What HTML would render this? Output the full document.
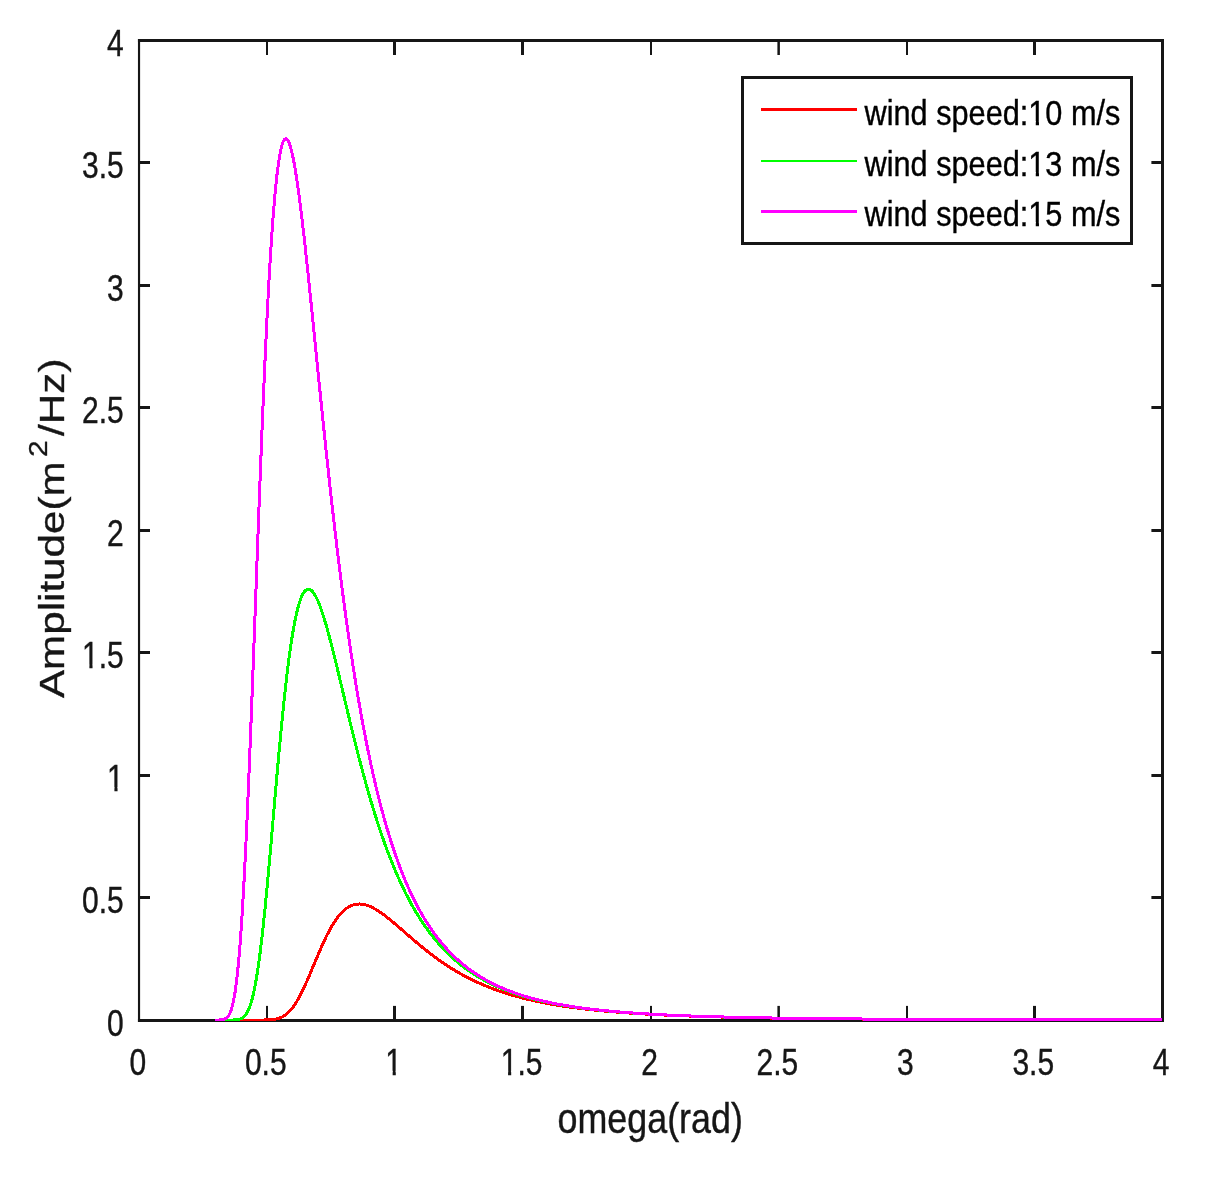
<!DOCTYPE html>
<html><head><meta charset="utf-8"><title>Wave spectrum</title>
<style>
html,body{margin:0;padding:0;background:#fff;}
body{width:1218px;height:1177px;overflow:hidden;font-family:"Liberation Sans",sans-serif;}
svg{display:block}
text{font-family:"Liberation Sans",sans-serif;fill:#161616;stroke:#161616;stroke-width:0.4px;}
.lg text{fill:#000;stroke:#000;stroke-width:0.4px;}
</style></head><body>
<svg width="1218" height="1177" viewBox="0 0 1218 1177">
<rect x="0" y="0" width="1218" height="1177" fill="#ffffff"/>

<g fill="#161616">
<rect x="137.95" y="39" width="1026.05" height="3"/>
<rect x="137.95" y="1019" width="1026.05" height="3"/>
<rect x="137.95" y="39" width="2.15" height="983"/>
<rect x="1161" y="39" width="3" height="983"/>
<rect x="266" y="40.5" width="2" height="14.5"/>
<rect x="266" y="1005.9" width="2" height="14.5"/>
<rect x="139" y="896" width="11" height="3"/>
<rect x="1151.4" y="896" width="11" height="3"/>
<rect x="393" y="40.5" width="3" height="14.5"/>
<rect x="393" y="1005.9" width="3" height="14.5"/>
<rect x="139" y="774" width="11" height="3"/>
<rect x="1151.4" y="774" width="11" height="3"/>
<rect x="521" y="40.5" width="3" height="14.5"/>
<rect x="521" y="1005.9" width="3" height="14.5"/>
<rect x="139" y="651" width="11" height="3"/>
<rect x="1151.4" y="651" width="11" height="3"/>
<rect x="650" y="40.5" width="2" height="14.5"/>
<rect x="650" y="1005.9" width="2" height="14.5"/>
<rect x="139" y="529" width="11" height="3"/>
<rect x="1151.4" y="529" width="11" height="3"/>
<rect x="777.394" y="40.5" width="2.5" height="14.5"/>
<rect x="777.394" y="1005.9" width="2.5" height="14.5"/>
<rect x="139" y="406" width="11" height="3"/>
<rect x="1151.4" y="406" width="11" height="3"/>
<rect x="906" y="40.5" width="2" height="14.5"/>
<rect x="906" y="1005.9" width="2" height="14.5"/>
<rect x="139" y="284" width="11" height="3"/>
<rect x="1151.4" y="284" width="11" height="3"/>
<rect x="1033" y="40.5" width="3" height="14.5"/>
<rect x="1033" y="1005.9" width="3" height="14.5"/>
<rect x="139" y="161" width="11" height="3"/>
<rect x="1151.4" y="161" width="11" height="3"/>
</g>
<defs><clipPath id="axclip"><rect x="138" y="39" width="1026" height="982"/></clipPath></defs>
<g fill="none" stroke-width="3" stroke-linejoin="round" shape-rendering="crispEdges" clip-path="url(#axclip)">
<path d="M215.03,1020.06 L215.80,1020.06 L217.08,1020.06 L218.36,1020.06 L219.64,1020.06 L220.92,1020.06 L222.20,1020.06 L223.48,1020.06 L224.76,1020.06 L226.03,1020.06 L227.31,1020.06 L228.59,1020.06 L229.87,1020.06 L231.15,1020.06 L232.43,1020.06 L233.71,1020.06 L234.99,1020.06 L236.27,1020.06 L237.55,1020.06 L238.83,1020.06 L240.11,1020.06 L241.39,1020.06 L242.66,1020.06 L243.94,1020.06 L245.22,1020.06 L246.50,1020.06 L247.78,1020.06 L249.06,1020.06 L250.34,1020.06 L251.62,1020.06 L252.90,1020.06 L254.18,1020.06 L255.46,1020.06 L256.74,1020.06 L258.01,1020.06 L259.29,1020.05 L260.57,1020.05 L261.85,1020.04 L263.13,1020.03 L264.41,1020.01 L265.69,1019.99 L266.97,1019.95 L268.25,1019.91 L269.53,1019.84 L270.81,1019.75 L272.09,1019.63 L273.36,1019.48 L274.64,1019.29 L275.92,1019.04 L277.20,1018.74 L278.48,1018.38 L279.76,1017.94 L281.04,1017.41 L282.32,1016.79 L283.60,1016.08 L284.88,1015.25 L286.16,1014.30 L287.44,1013.24 L288.71,1012.04 L289.99,1010.71 L291.27,1009.25 L292.55,1007.64 L293.83,1005.90 L295.11,1004.03 L296.39,1002.02 L297.67,999.87 L298.95,997.60 L300.23,995.22 L301.51,992.72 L302.79,990.11 L304.07,987.41 L305.34,984.63 L306.62,981.77 L307.90,978.85 L309.18,975.88 L310.46,972.86 L311.74,969.82 L313.02,966.76 L314.30,963.69 L315.58,960.63 L316.86,957.58 L318.14,954.57 L319.42,951.58 L320.69,948.65 L321.97,945.76 L323.25,942.95 L324.53,940.20 L325.81,937.53 L327.09,934.94 L328.37,932.44 L329.65,930.04 L330.93,927.73 L332.21,925.53 L333.49,923.43 L334.77,921.44 L336.04,919.55 L337.32,917.78 L338.60,916.12 L339.88,914.58 L341.16,913.14 L342.44,911.82 L343.72,910.61 L345.00,909.50 L346.28,908.51 L347.56,907.62 L348.84,906.83 L350.12,906.15 L351.40,905.56 L352.67,905.08 L353.95,904.68 L355.23,904.38 L356.51,904.17 L357.79,904.04 L359.07,903.99 L360.35,904.02 L361.63,904.13 L362.91,904.30 L364.19,904.55 L365.47,904.87 L366.75,905.24 L368.02,905.68 L369.30,906.17 L370.58,906.72 L371.86,907.31 L373.14,907.96 L374.42,908.65 L375.70,909.38 L376.98,910.15 L378.26,910.96 L379.54,911.80 L380.82,912.67 L382.10,913.57 L383.37,914.50 L384.65,915.45 L385.93,916.43 L387.21,917.43 L388.49,918.44 L389.77,919.48 L391.05,920.53 L392.33,921.59 L393.61,922.66 L394.89,923.74 L396.17,924.83 L397.45,925.93 L398.73,927.04 L400.00,928.15 L401.28,929.26 L402.56,930.38 L403.84,931.49 L405.12,932.61 L406.40,933.73 L407.68,934.84 L408.96,935.96 L410.24,937.06 L411.52,938.17 L412.80,939.27 L414.08,940.37 L415.35,941.46 L416.63,942.54 L417.91,943.61 L419.19,944.68 L420.47,945.74 L421.75,946.80 L423.03,947.84 L424.31,948.87 L425.59,949.90 L426.87,950.91 L428.15,951.92 L429.43,952.92 L430.70,953.90 L431.98,954.88 L433.26,955.84 L434.54,956.79 L435.82,957.73 L437.10,958.66 L438.38,959.58 L439.66,960.49 L440.94,961.39 L442.22,962.28 L443.50,963.15 L444.78,964.01 L446.06,964.87 L447.33,965.71 L448.61,966.53 L449.89,967.35 L451.17,968.16 L452.45,968.95 L453.73,969.74 L455.01,970.51 L456.29,971.27 L457.57,972.02 L458.85,972.76 L460.13,973.49 L461.41,974.20 L462.68,974.91 L463.96,975.61 L465.24,976.29 L466.52,976.97 L467.80,977.63 L469.08,978.29 L470.36,978.93 L471.64,979.56 L472.92,980.19 L474.20,980.80 L475.48,981.41 L476.76,982.00 L478.03,982.59 L479.31,983.17 L480.59,983.73 L481.87,984.29 L483.15,984.84 L484.43,985.38 L485.71,985.91 L486.99,986.44 L488.27,986.95 L489.55,987.46 L490.83,987.96 L492.11,988.45 L493.38,988.93 L494.66,989.40 L495.94,989.87 L497.22,990.33 L498.50,990.78 L499.78,991.22 L501.06,991.66 L502.34,992.09 L503.62,992.51 L504.90,992.93 L506.18,993.34 L507.46,993.74 L508.74,994.13 L510.01,994.52 L511.29,994.91 L512.57,995.28 L513.85,995.65 L515.13,996.02 L516.41,996.37 L517.69,996.73 L518.97,997.07 L520.25,997.41 L521.53,997.75 L522.81,998.08 L524.09,998.40 L525.36,998.72 L526.64,999.03 L527.92,999.34 L529.20,999.64 L530.48,999.94 L531.76,1000.24 L533.04,1000.52 L534.32,1000.81 L535.60,1001.09 L536.88,1001.36 L538.16,1001.63 L539.44,1001.90 L540.71,1002.16 L541.99,1002.42 L543.27,1002.67 L544.55,1002.92 L545.83,1003.16 L547.11,1003.40 L548.39,1003.64 L549.67,1003.87 L550.95,1004.10 L552.23,1004.33 L553.51,1004.55 L554.79,1004.77 L556.07,1004.99 L557.34,1005.20 L558.62,1005.41 L559.90,1005.61 L561.18,1005.81 L562.46,1006.01 L563.74,1006.21 L565.02,1006.40 L566.30,1006.59 L567.58,1006.77 L568.86,1006.96 L570.14,1007.14 L571.42,1007.31 L572.69,1007.49 L573.97,1007.66 L575.25,1007.83 L576.53,1007.99 L577.81,1008.16 L579.09,1008.32 L580.37,1008.48 L581.65,1008.63 L582.93,1008.79 L584.21,1008.94 L585.49,1009.09 L586.77,1009.24 L588.04,1009.38 L589.32,1009.52 L590.60,1009.66 L591.88,1009.80 L593.16,1009.94 L594.44,1010.07 L595.72,1010.20 L597.00,1010.33 L598.28,1010.46 L599.56,1010.58 L600.84,1010.71 L602.12,1010.83 L603.40,1010.95 L604.67,1011.07 L605.95,1011.18 L607.23,1011.30 L608.51,1011.41 L609.79,1011.52 L611.07,1011.63 L612.35,1011.74 L613.63,1011.85 L614.91,1011.95 L616.19,1012.06 L617.47,1012.16 L618.75,1012.26 L620.02,1012.36 L621.30,1012.45 L622.58,1012.55 L623.86,1012.64 L625.14,1012.74 L626.42,1012.83 L627.70,1012.92 L628.98,1013.01 L630.26,1013.09 L631.54,1013.18 L632.82,1013.27 L634.10,1013.35 L635.37,1013.43 L636.65,1013.51 L637.93,1013.59 L639.21,1013.67 L640.49,1013.75 L641.77,1013.83 L643.05,1013.90 L644.33,1013.98 L645.61,1014.05 L646.89,1014.13 L648.17,1014.20 L649.45,1014.27 L650.73,1014.34 L652.00,1014.41 L653.28,1014.47 L654.56,1014.54 L655.84,1014.61 L657.12,1014.67 L658.40,1014.73 L659.68,1014.80 L660.96,1014.86 L662.24,1014.92 L663.52,1014.98 L664.80,1015.04 L666.08,1015.10 L667.35,1015.16 L668.63,1015.22 L669.91,1015.27 L671.19,1015.33 L672.47,1015.38 L673.75,1015.44 L675.03,1015.49 L676.31,1015.54 L677.59,1015.59 L678.87,1015.65 L680.15,1015.70 L681.43,1015.75 L682.70,1015.79 L683.98,1015.84 L685.26,1015.89 L686.54,1015.94 L687.82,1015.98 L689.10,1016.03 L690.38,1016.08 L691.66,1016.12 L692.94,1016.17 L694.22,1016.21 L695.50,1016.25 L696.78,1016.29 L698.05,1016.34 L699.33,1016.38 L700.61,1016.42 L701.89,1016.46 L703.17,1016.50 L704.45,1016.54 L705.73,1016.58 L707.01,1016.61 L708.29,1016.65 L709.57,1016.69 L710.85,1016.73 L712.13,1016.76 L713.41,1016.80 L714.68,1016.83 L715.96,1016.87 L717.24,1016.90 L718.52,1016.94 L719.80,1016.97 L721.08,1017.00 L722.36,1017.04 L723.64,1017.07 L724.92,1017.10 L726.20,1017.13 L727.48,1017.16 L728.76,1017.19 L730.03,1017.22 L731.31,1017.25 L732.59,1017.28 L733.87,1017.31 L735.15,1017.34 L736.43,1017.37 L737.71,1017.40 L738.99,1017.42 L740.27,1017.45 L741.55,1017.48 L742.83,1017.51 L744.11,1017.53 L745.38,1017.56 L746.66,1017.58 L747.94,1017.61 L749.22,1017.64 L750.50,1017.66 L751.78,1017.68 L753.06,1017.71 L754.34,1017.73 L755.62,1017.76 L756.90,1017.78 L758.18,1017.80 L759.46,1017.83 L760.74,1017.85 L762.01,1017.87 L763.29,1017.89 L764.57,1017.91 L765.85,1017.94 L767.13,1017.96 L768.41,1017.98 L769.69,1018.00 L770.97,1018.02 L772.25,1018.04 L773.53,1018.06 L774.81,1018.08 L776.09,1018.10 L777.36,1018.12 L778.64,1018.14 L779.92,1018.16 L781.20,1018.17 L782.48,1018.19 L783.76,1018.21 L785.04,1018.23 L786.32,1018.25 L787.60,1018.26 L788.88,1018.28 L790.16,1018.30 L791.44,1018.32 L792.71,1018.33 L793.99,1018.35 L795.27,1018.37 L796.55,1018.38 L797.83,1018.40 L799.11,1018.41 L800.39,1018.43 L801.67,1018.44 L802.95,1018.46 L804.23,1018.48 L805.51,1018.49 L806.79,1018.51 L808.07,1018.52 L809.34,1018.53 L810.62,1018.55 L811.90,1018.56 L813.18,1018.58 L814.46,1018.59 L815.74,1018.60 L817.02,1018.62 L818.30,1018.63 L819.58,1018.64 L820.86,1018.66 L822.14,1018.67 L823.42,1018.68 L824.69,1018.70 L825.97,1018.71 L827.25,1018.72 L828.53,1018.73 L829.81,1018.75 L831.09,1018.76 L832.37,1018.77 L833.65,1018.78 L834.93,1018.79 L836.21,1018.80 L837.49,1018.81 L838.77,1018.83 L840.04,1018.84 L841.32,1018.85 L842.60,1018.86 L843.88,1018.87 L845.16,1018.88 L846.44,1018.89 L847.72,1018.90 L849.00,1018.91 L850.28,1018.92 L851.56,1018.93 L852.84,1018.94 L854.12,1018.95 L855.40,1018.96 L856.67,1018.97 L857.95,1018.98 L859.23,1018.99 L860.51,1019.00 L861.79,1019.01 L863.07,1019.02 L864.35,1019.03 L865.63,1019.04 L866.91,1019.05 L868.19,1019.05 L869.47,1019.06 L870.75,1019.07 L872.02,1019.08 L873.30,1019.09 L874.58,1019.10 L875.86,1019.10 L877.14,1019.11 L878.42,1019.12 L879.70,1019.13 L880.98,1019.14 L882.26,1019.14 L883.54,1019.15 L884.82,1019.16 L886.10,1019.17 L887.37,1019.18 L888.65,1019.18 L889.93,1019.19 L891.21,1019.20 L892.49,1019.21 L893.77,1019.21 L895.05,1019.22 L896.33,1019.23 L897.61,1019.23 L898.89,1019.24 L900.17,1019.25 L901.45,1019.25 L902.72,1019.26 L904.00,1019.27 L905.28,1019.27 L906.56,1019.28 L907.84,1019.29 L909.12,1019.29 L910.40,1019.30 L911.68,1019.31 L912.96,1019.31 L914.24,1019.32 L915.52,1019.32 L916.80,1019.33 L918.08,1019.34 L919.35,1019.34 L920.63,1019.35 L921.91,1019.35 L923.19,1019.36 L924.47,1019.36 L925.75,1019.37 L927.03,1019.38 L928.31,1019.38 L929.59,1019.39 L930.87,1019.39 L932.15,1019.40 L933.43,1019.40 L934.70,1019.41 L935.98,1019.41 L937.26,1019.42 L938.54,1019.42 L939.82,1019.43 L941.10,1019.43 L942.38,1019.44 L943.66,1019.44 L944.94,1019.45 L946.22,1019.45 L947.50,1019.46 L948.78,1019.46 L950.05,1019.47 L951.33,1019.47 L952.61,1019.48 L953.89,1019.48 L955.17,1019.49 L956.45,1019.49 L957.73,1019.49 L959.01,1019.50 L960.29,1019.50 L961.57,1019.51 L962.85,1019.51 L964.13,1019.52 L965.41,1019.52 L966.68,1019.52 L967.96,1019.53 L969.24,1019.53 L970.52,1019.54 L971.80,1019.54 L973.08,1019.54 L974.36,1019.55 L975.64,1019.55 L976.92,1019.56 L978.20,1019.56 L979.48,1019.56 L980.76,1019.57 L982.03,1019.57 L983.31,1019.57 L984.59,1019.58 L985.87,1019.58 L987.15,1019.59 L988.43,1019.59 L989.71,1019.59 L990.99,1019.60 L992.27,1019.60 L993.55,1019.60 L994.83,1019.61 L996.11,1019.61 L997.38,1019.61 L998.66,1019.62 L999.94,1019.62 L1001.22,1019.62 L1002.50,1019.63 L1003.78,1019.63 L1005.06,1019.63 L1006.34,1019.64 L1007.62,1019.64 L1008.90,1019.64 L1010.18,1019.64 L1011.46,1019.65 L1012.74,1019.65 L1014.01,1019.65 L1015.29,1019.66 L1016.57,1019.66 L1017.85,1019.66 L1019.13,1019.67 L1020.41,1019.67 L1021.69,1019.67 L1022.97,1019.67 L1024.25,1019.68 L1025.53,1019.68 L1026.81,1019.68 L1028.09,1019.68 L1029.36,1019.69 L1030.64,1019.69 L1031.92,1019.69 L1033.20,1019.70 L1034.48,1019.70 L1035.76,1019.70 L1037.04,1019.70 L1038.32,1019.71 L1039.60,1019.71 L1040.88,1019.71 L1042.16,1019.71 L1043.44,1019.72 L1044.71,1019.72 L1045.99,1019.72 L1047.27,1019.72 L1048.55,1019.72 L1049.83,1019.73 L1051.11,1019.73 L1052.39,1019.73 L1053.67,1019.73 L1054.95,1019.74 L1056.23,1019.74 L1057.51,1019.74 L1058.79,1019.74 L1060.07,1019.75 L1061.34,1019.75 L1062.62,1019.75 L1063.90,1019.75 L1065.18,1019.75 L1066.46,1019.76 L1067.74,1019.76 L1069.02,1019.76 L1070.30,1019.76 L1071.58,1019.76 L1072.86,1019.77 L1074.14,1019.77 L1075.42,1019.77 L1076.69,1019.77 L1077.97,1019.77 L1079.25,1019.78 L1080.53,1019.78 L1081.81,1019.78 L1083.09,1019.78 L1084.37,1019.78 L1085.65,1019.79 L1086.93,1019.79 L1088.21,1019.79 L1089.49,1019.79 L1090.77,1019.79 L1092.04,1019.79 L1093.32,1019.80 L1094.60,1019.80 L1095.88,1019.80 L1097.16,1019.80 L1098.44,1019.80 L1099.72,1019.80 L1101.00,1019.81 L1102.28,1019.81 L1103.56,1019.81 L1104.84,1019.81 L1106.12,1019.81 L1107.39,1019.81 L1108.67,1019.82 L1109.95,1019.82 L1111.23,1019.82 L1112.51,1019.82 L1113.79,1019.82 L1115.07,1019.82 L1116.35,1019.83 L1117.63,1019.83 L1118.91,1019.83 L1120.19,1019.83 L1121.47,1019.83 L1122.75,1019.83 L1124.02,1019.83 L1125.30,1019.84 L1126.58,1019.84 L1127.86,1019.84 L1129.14,1019.84 L1130.42,1019.84 L1131.70,1019.84 L1132.98,1019.84 L1134.26,1019.85 L1135.54,1019.85 L1136.82,1019.85 L1138.10,1019.85 L1139.37,1019.85 L1140.65,1019.85 L1141.93,1019.85 L1143.21,1019.86 L1144.49,1019.86 L1145.77,1019.86 L1147.05,1019.86 L1148.33,1019.86 L1149.61,1019.86 L1150.89,1019.86 L1152.17,1019.86 L1153.45,1019.87 L1154.72,1019.87 L1156.00,1019.87 L1157.28,1019.87 L1158.56,1019.87 L1159.84,1019.87 L1161.12,1019.87 L1162.40,1019.87" stroke="#ff0000"/>
<path d="M215.03,1020.06 L215.80,1020.06 L217.08,1020.06 L218.36,1020.06 L219.64,1020.06 L220.92,1020.06 L222.20,1020.06 L223.48,1020.06 L224.76,1020.06 L226.03,1020.06 L227.31,1020.06 L228.59,1020.06 L229.87,1020.05 L231.15,1020.04 L232.43,1020.02 L233.71,1019.98 L234.99,1019.92 L236.27,1019.82 L237.55,1019.65 L238.83,1019.40 L240.11,1019.02 L241.39,1018.47 L242.66,1017.71 L243.94,1016.68 L245.22,1015.30 L246.50,1013.51 L247.78,1011.25 L249.06,1008.42 L250.34,1004.98 L251.62,1000.84 L252.90,995.96 L254.18,990.28 L255.46,983.77 L256.74,976.40 L258.01,968.17 L259.29,959.08 L260.57,949.14 L261.85,938.40 L263.13,926.91 L264.41,914.71 L265.69,901.89 L266.97,888.51 L268.25,874.66 L269.53,860.44 L270.81,845.94 L272.09,831.25 L273.36,816.46 L274.64,801.67 L275.92,786.97 L277.20,772.44 L278.48,758.16 L279.76,744.21 L281.04,730.65 L282.32,717.55 L283.60,704.95 L284.88,692.92 L286.16,681.48 L287.44,670.67 L288.71,660.51 L289.99,651.03 L291.27,642.24 L292.55,634.15 L293.83,626.77 L295.11,620.08 L296.39,614.10 L297.67,608.80 L298.95,604.17 L300.23,600.20 L301.51,596.88 L302.79,594.18 L304.07,592.07 L305.34,590.55 L306.62,589.57 L307.90,589.13 L309.18,589.18 L310.46,589.72 L311.74,590.70 L313.02,592.10 L314.30,593.90 L315.58,596.08 L316.86,598.60 L318.14,601.44 L319.42,604.59 L320.69,608.00 L321.97,611.68 L323.25,615.58 L324.53,619.69 L325.81,624.00 L327.09,628.48 L328.37,633.11 L329.65,637.88 L330.93,642.77 L332.21,647.77 L333.49,652.85 L334.77,658.02 L336.04,663.25 L337.32,668.53 L338.60,673.86 L339.88,679.21 L341.16,684.59 L342.44,689.98 L343.72,695.37 L345.00,700.76 L346.28,706.13 L347.56,711.49 L348.84,716.83 L350.12,722.13 L351.40,727.40 L352.67,732.63 L353.95,737.81 L355.23,742.95 L356.51,748.03 L357.79,753.06 L359.07,758.04 L360.35,762.95 L361.63,767.80 L362.91,772.59 L364.19,777.31 L365.47,781.97 L366.75,786.55 L368.02,791.07 L369.30,795.52 L370.58,799.90 L371.86,804.20 L373.14,808.44 L374.42,812.60 L375.70,816.69 L376.98,820.71 L378.26,824.66 L379.54,828.53 L380.82,832.34 L382.10,836.08 L383.37,839.74 L384.65,843.34 L385.93,846.87 L387.21,850.33 L388.49,853.72 L389.77,857.04 L391.05,860.30 L392.33,863.50 L393.61,866.63 L394.89,869.70 L396.17,872.71 L397.45,875.65 L398.73,878.54 L400.00,881.36 L401.28,884.13 L402.56,886.84 L403.84,889.49 L405.12,892.09 L406.40,894.64 L407.68,897.13 L408.96,899.57 L410.24,901.95 L411.52,904.29 L412.80,906.58 L414.08,908.82 L415.35,911.01 L416.63,913.16 L417.91,915.25 L419.19,917.31 L420.47,919.32 L421.75,921.29 L423.03,923.21 L424.31,925.10 L425.59,926.94 L426.87,928.75 L428.15,930.52 L429.43,932.25 L430.70,933.94 L431.98,935.59 L433.26,937.21 L434.54,938.80 L435.82,940.35 L437.10,941.87 L438.38,943.36 L439.66,944.81 L440.94,946.24 L442.22,947.63 L443.50,949.00 L444.78,950.33 L446.06,951.64 L447.33,952.92 L448.61,954.17 L449.89,955.40 L451.17,956.60 L452.45,957.77 L453.73,958.93 L455.01,960.05 L456.29,961.15 L457.57,962.23 L458.85,963.29 L460.13,964.33 L461.41,965.34 L462.68,966.33 L463.96,967.30 L465.24,968.26 L466.52,969.19 L467.80,970.10 L469.08,971.00 L470.36,971.87 L471.64,972.73 L472.92,973.57 L474.20,974.39 L475.48,975.20 L476.76,975.99 L478.03,976.76 L479.31,977.52 L480.59,978.26 L481.87,978.99 L483.15,979.71 L484.43,980.40 L485.71,981.09 L486.99,981.76 L488.27,982.42 L489.55,983.06 L490.83,983.70 L492.11,984.32 L493.38,984.92 L494.66,985.52 L495.94,986.10 L497.22,986.67 L498.50,987.23 L499.78,987.78 L501.06,988.32 L502.34,988.85 L503.62,989.37 L504.90,989.88 L506.18,990.38 L507.46,990.87 L508.74,991.35 L510.01,991.82 L511.29,992.28 L512.57,992.73 L513.85,993.17 L515.13,993.61 L516.41,994.04 L517.69,994.46 L518.97,994.87 L520.25,995.27 L521.53,995.67 L522.81,996.05 L524.09,996.44 L525.36,996.81 L526.64,997.18 L527.92,997.54 L529.20,997.89 L530.48,998.24 L531.76,998.58 L533.04,998.91 L534.32,999.24 L535.60,999.57 L536.88,999.88 L538.16,1000.19 L539.44,1000.50 L540.71,1000.80 L541.99,1001.09 L543.27,1001.38 L544.55,1001.67 L545.83,1001.94 L547.11,1002.22 L548.39,1002.49 L549.67,1002.75 L550.95,1003.01 L552.23,1003.27 L553.51,1003.52 L554.79,1003.76 L556.07,1004.00 L557.34,1004.24 L558.62,1004.47 L559.90,1004.70 L561.18,1004.93 L562.46,1005.15 L563.74,1005.37 L565.02,1005.58 L566.30,1005.79 L567.58,1006.00 L568.86,1006.20 L570.14,1006.40 L571.42,1006.60 L572.69,1006.79 L573.97,1006.98 L575.25,1007.17 L576.53,1007.35 L577.81,1007.53 L579.09,1007.71 L580.37,1007.88 L581.65,1008.05 L582.93,1008.22 L584.21,1008.39 L585.49,1008.55 L586.77,1008.71 L588.04,1008.87 L589.32,1009.02 L590.60,1009.17 L591.88,1009.32 L593.16,1009.47 L594.44,1009.62 L595.72,1009.76 L597.00,1009.90 L598.28,1010.04 L599.56,1010.17 L600.84,1010.31 L602.12,1010.44 L603.40,1010.57 L604.67,1010.70 L605.95,1010.82 L607.23,1010.94 L608.51,1011.07 L609.79,1011.19 L611.07,1011.30 L612.35,1011.42 L613.63,1011.53 L614.91,1011.64 L616.19,1011.76 L617.47,1011.86 L618.75,1011.97 L620.02,1012.08 L621.30,1012.18 L622.58,1012.28 L623.86,1012.38 L625.14,1012.48 L626.42,1012.58 L627.70,1012.68 L628.98,1012.77 L630.26,1012.86 L631.54,1012.95 L632.82,1013.04 L634.10,1013.13 L635.37,1013.22 L636.65,1013.31 L637.93,1013.39 L639.21,1013.48 L640.49,1013.56 L641.77,1013.64 L643.05,1013.72 L644.33,1013.80 L645.61,1013.88 L646.89,1013.95 L648.17,1014.03 L649.45,1014.10 L650.73,1014.18 L652.00,1014.25 L653.28,1014.32 L654.56,1014.39 L655.84,1014.46 L657.12,1014.53 L658.40,1014.59 L659.68,1014.66 L660.96,1014.72 L662.24,1014.79 L663.52,1014.85 L664.80,1014.91 L666.08,1014.98 L667.35,1015.04 L668.63,1015.10 L669.91,1015.16 L671.19,1015.21 L672.47,1015.27 L673.75,1015.33 L675.03,1015.38 L676.31,1015.44 L677.59,1015.49 L678.87,1015.54 L680.15,1015.60 L681.43,1015.65 L682.70,1015.70 L683.98,1015.75 L685.26,1015.80 L686.54,1015.85 L687.82,1015.90 L689.10,1015.95 L690.38,1015.99 L691.66,1016.04 L692.94,1016.09 L694.22,1016.13 L695.50,1016.18 L696.78,1016.22 L698.05,1016.26 L699.33,1016.31 L700.61,1016.35 L701.89,1016.39 L703.17,1016.43 L704.45,1016.47 L705.73,1016.51 L707.01,1016.55 L708.29,1016.59 L709.57,1016.63 L710.85,1016.67 L712.13,1016.70 L713.41,1016.74 L714.68,1016.78 L715.96,1016.81 L717.24,1016.85 L718.52,1016.88 L719.80,1016.92 L721.08,1016.95 L722.36,1016.99 L723.64,1017.02 L724.92,1017.05 L726.20,1017.08 L727.48,1017.12 L728.76,1017.15 L730.03,1017.18 L731.31,1017.21 L732.59,1017.24 L733.87,1017.27 L735.15,1017.30 L736.43,1017.33 L737.71,1017.36 L738.99,1017.39 L740.27,1017.41 L741.55,1017.44 L742.83,1017.47 L744.11,1017.50 L745.38,1017.52 L746.66,1017.55 L747.94,1017.58 L749.22,1017.60 L750.50,1017.63 L751.78,1017.65 L753.06,1017.68 L754.34,1017.70 L755.62,1017.73 L756.90,1017.75 L758.18,1017.77 L759.46,1017.80 L760.74,1017.82 L762.01,1017.84 L763.29,1017.86 L764.57,1017.89 L765.85,1017.91 L767.13,1017.93 L768.41,1017.95 L769.69,1017.97 L770.97,1017.99 L772.25,1018.02 L773.53,1018.04 L774.81,1018.06 L776.09,1018.08 L777.36,1018.10 L778.64,1018.11 L779.92,1018.13 L781.20,1018.15 L782.48,1018.17 L783.76,1018.19 L785.04,1018.21 L786.32,1018.23 L787.60,1018.24 L788.88,1018.26 L790.16,1018.28 L791.44,1018.30 L792.71,1018.31 L793.99,1018.33 L795.27,1018.35 L796.55,1018.36 L797.83,1018.38 L799.11,1018.40 L800.39,1018.41 L801.67,1018.43 L802.95,1018.44 L804.23,1018.46 L805.51,1018.47 L806.79,1018.49 L808.07,1018.50 L809.34,1018.52 L810.62,1018.53 L811.90,1018.55 L813.18,1018.56 L814.46,1018.58 L815.74,1018.59 L817.02,1018.60 L818.30,1018.62 L819.58,1018.63 L820.86,1018.64 L822.14,1018.66 L823.42,1018.67 L824.69,1018.68 L825.97,1018.70 L827.25,1018.71 L828.53,1018.72 L829.81,1018.73 L831.09,1018.75 L832.37,1018.76 L833.65,1018.77 L834.93,1018.78 L836.21,1018.79 L837.49,1018.80 L838.77,1018.82 L840.04,1018.83 L841.32,1018.84 L842.60,1018.85 L843.88,1018.86 L845.16,1018.87 L846.44,1018.88 L847.72,1018.89 L849.00,1018.90 L850.28,1018.91 L851.56,1018.92 L852.84,1018.93 L854.12,1018.94 L855.40,1018.95 L856.67,1018.96 L857.95,1018.97 L859.23,1018.98 L860.51,1018.99 L861.79,1019.00 L863.07,1019.01 L864.35,1019.02 L865.63,1019.03 L866.91,1019.04 L868.19,1019.05 L869.47,1019.06 L870.75,1019.06 L872.02,1019.07 L873.30,1019.08 L874.58,1019.09 L875.86,1019.10 L877.14,1019.11 L878.42,1019.12 L879.70,1019.12 L880.98,1019.13 L882.26,1019.14 L883.54,1019.15 L884.82,1019.15 L886.10,1019.16 L887.37,1019.17 L888.65,1019.18 L889.93,1019.19 L891.21,1019.19 L892.49,1019.20 L893.77,1019.21 L895.05,1019.21 L896.33,1019.22 L897.61,1019.23 L898.89,1019.24 L900.17,1019.24 L901.45,1019.25 L902.72,1019.26 L904.00,1019.26 L905.28,1019.27 L906.56,1019.28 L907.84,1019.28 L909.12,1019.29 L910.40,1019.30 L911.68,1019.30 L912.96,1019.31 L914.24,1019.31 L915.52,1019.32 L916.80,1019.33 L918.08,1019.33 L919.35,1019.34 L920.63,1019.34 L921.91,1019.35 L923.19,1019.36 L924.47,1019.36 L925.75,1019.37 L927.03,1019.37 L928.31,1019.38 L929.59,1019.38 L930.87,1019.39 L932.15,1019.39 L933.43,1019.40 L934.70,1019.40 L935.98,1019.41 L937.26,1019.42 L938.54,1019.42 L939.82,1019.43 L941.10,1019.43 L942.38,1019.44 L943.66,1019.44 L944.94,1019.45 L946.22,1019.45 L947.50,1019.45 L948.78,1019.46 L950.05,1019.46 L951.33,1019.47 L952.61,1019.47 L953.89,1019.48 L955.17,1019.48 L956.45,1019.49 L957.73,1019.49 L959.01,1019.50 L960.29,1019.50 L961.57,1019.50 L962.85,1019.51 L964.13,1019.51 L965.41,1019.52 L966.68,1019.52 L967.96,1019.53 L969.24,1019.53 L970.52,1019.53 L971.80,1019.54 L973.08,1019.54 L974.36,1019.55 L975.64,1019.55 L976.92,1019.55 L978.20,1019.56 L979.48,1019.56 L980.76,1019.57 L982.03,1019.57 L983.31,1019.57 L984.59,1019.58 L985.87,1019.58 L987.15,1019.58 L988.43,1019.59 L989.71,1019.59 L990.99,1019.59 L992.27,1019.60 L993.55,1019.60 L994.83,1019.60 L996.11,1019.61 L997.38,1019.61 L998.66,1019.61 L999.94,1019.62 L1001.22,1019.62 L1002.50,1019.62 L1003.78,1019.63 L1005.06,1019.63 L1006.34,1019.63 L1007.62,1019.64 L1008.90,1019.64 L1010.18,1019.64 L1011.46,1019.65 L1012.74,1019.65 L1014.01,1019.65 L1015.29,1019.66 L1016.57,1019.66 L1017.85,1019.66 L1019.13,1019.66 L1020.41,1019.67 L1021.69,1019.67 L1022.97,1019.67 L1024.25,1019.68 L1025.53,1019.68 L1026.81,1019.68 L1028.09,1019.68 L1029.36,1019.69 L1030.64,1019.69 L1031.92,1019.69 L1033.20,1019.69 L1034.48,1019.70 L1035.76,1019.70 L1037.04,1019.70 L1038.32,1019.70 L1039.60,1019.71 L1040.88,1019.71 L1042.16,1019.71 L1043.44,1019.71 L1044.71,1019.72 L1045.99,1019.72 L1047.27,1019.72 L1048.55,1019.72 L1049.83,1019.73 L1051.11,1019.73 L1052.39,1019.73 L1053.67,1019.73 L1054.95,1019.74 L1056.23,1019.74 L1057.51,1019.74 L1058.79,1019.74 L1060.07,1019.74 L1061.34,1019.75 L1062.62,1019.75 L1063.90,1019.75 L1065.18,1019.75 L1066.46,1019.76 L1067.74,1019.76 L1069.02,1019.76 L1070.30,1019.76 L1071.58,1019.76 L1072.86,1019.77 L1074.14,1019.77 L1075.42,1019.77 L1076.69,1019.77 L1077.97,1019.77 L1079.25,1019.78 L1080.53,1019.78 L1081.81,1019.78 L1083.09,1019.78 L1084.37,1019.78 L1085.65,1019.78 L1086.93,1019.79 L1088.21,1019.79 L1089.49,1019.79 L1090.77,1019.79 L1092.04,1019.79 L1093.32,1019.80 L1094.60,1019.80 L1095.88,1019.80 L1097.16,1019.80 L1098.44,1019.80 L1099.72,1019.80 L1101.00,1019.81 L1102.28,1019.81 L1103.56,1019.81 L1104.84,1019.81 L1106.12,1019.81 L1107.39,1019.81 L1108.67,1019.82 L1109.95,1019.82 L1111.23,1019.82 L1112.51,1019.82 L1113.79,1019.82 L1115.07,1019.82 L1116.35,1019.83 L1117.63,1019.83 L1118.91,1019.83 L1120.19,1019.83 L1121.47,1019.83 L1122.75,1019.83 L1124.02,1019.83 L1125.30,1019.84 L1126.58,1019.84 L1127.86,1019.84 L1129.14,1019.84 L1130.42,1019.84 L1131.70,1019.84 L1132.98,1019.84 L1134.26,1019.85 L1135.54,1019.85 L1136.82,1019.85 L1138.10,1019.85 L1139.37,1019.85 L1140.65,1019.85 L1141.93,1019.85 L1143.21,1019.86 L1144.49,1019.86 L1145.77,1019.86 L1147.05,1019.86 L1148.33,1019.86 L1149.61,1019.86 L1150.89,1019.86 L1152.17,1019.86 L1153.45,1019.87 L1154.72,1019.87 L1156.00,1019.87 L1157.28,1019.87 L1158.56,1019.87 L1159.84,1019.87 L1161.12,1019.87 L1162.40,1019.87" stroke="#00ff00"/>
<path d="M215.03,1020.06 L215.80,1020.06 L217.08,1020.05 L218.36,1020.03 L219.64,1019.99 L220.92,1019.92 L222.20,1019.78 L223.48,1019.52 L224.76,1019.09 L226.03,1018.38 L227.31,1017.29 L228.59,1015.66 L229.87,1013.32 L231.15,1010.07 L232.43,1005.69 L233.71,999.96 L234.99,992.64 L236.27,983.52 L237.55,972.41 L238.83,959.16 L240.11,943.63 L241.39,925.78 L242.66,905.56 L243.94,883.03 L245.22,858.27 L246.50,831.40 L247.78,802.62 L249.06,772.15 L250.34,740.22 L251.62,707.12 L252.90,673.12 L254.18,638.54 L255.46,603.65 L256.74,568.76 L258.01,534.15 L259.29,500.07 L260.57,466.77 L261.85,434.47 L263.13,403.38 L264.41,373.66 L265.69,345.47 L266.97,318.92 L268.25,294.12 L269.53,271.13 L270.81,250.02 L272.09,230.80 L273.36,213.50 L274.64,198.10 L275.92,184.60 L277.20,172.95 L278.48,163.12 L279.76,155.04 L281.04,148.66 L282.32,143.91 L283.60,140.72 L284.88,139.00 L286.16,138.68 L287.44,139.68 L288.71,141.92 L289.99,145.31 L291.27,149.77 L292.55,155.22 L293.83,161.59 L295.11,168.79 L296.39,176.76 L297.67,185.42 L298.95,194.71 L300.23,204.57 L301.51,214.92 L302.79,225.72 L304.07,236.90 L305.34,248.42 L306.62,260.23 L307.90,272.28 L309.18,284.53 L310.46,296.94 L311.74,309.48 L313.02,322.11 L314.30,334.80 L315.58,347.51 L316.86,360.24 L318.14,372.94 L319.42,385.60 L320.69,398.21 L321.97,410.73 L323.25,423.15 L324.53,435.47 L325.81,447.66 L327.09,459.72 L328.37,471.63 L329.65,483.39 L330.93,494.98 L332.21,506.41 L333.49,517.66 L334.77,528.73 L336.04,539.62 L337.32,550.32 L338.60,560.83 L339.88,571.14 L341.16,581.26 L342.44,591.19 L343.72,600.92 L345.00,610.46 L346.28,619.80 L347.56,628.95 L348.84,637.91 L350.12,646.67 L351.40,655.25 L352.67,663.64 L353.95,671.84 L355.23,679.85 L356.51,687.69 L357.79,695.35 L359.07,702.83 L360.35,710.14 L361.63,717.28 L362.91,724.26 L364.19,731.06 L365.47,737.71 L366.75,744.20 L368.02,750.54 L369.30,756.72 L370.58,762.75 L371.86,768.64 L373.14,774.38 L374.42,779.99 L375.70,785.46 L376.98,790.80 L378.26,796.00 L379.54,801.08 L380.82,806.04 L382.10,810.87 L383.37,815.58 L384.65,820.18 L385.93,824.67 L387.21,829.04 L388.49,833.31 L389.77,837.47 L391.05,841.53 L392.33,845.49 L393.61,849.36 L394.89,853.12 L396.17,856.80 L397.45,860.38 L398.73,863.88 L400.00,867.29 L401.28,870.62 L402.56,873.87 L403.84,877.04 L405.12,880.13 L406.40,883.14 L407.68,886.08 L408.96,888.95 L410.24,891.75 L411.52,894.49 L412.80,897.15 L414.08,899.76 L415.35,902.30 L416.63,904.78 L417.91,907.19 L419.19,909.56 L420.47,911.86 L421.75,914.11 L423.03,916.31 L424.31,918.45 L425.59,920.54 L426.87,922.59 L428.15,924.58 L429.43,926.53 L430.70,928.44 L431.98,930.29 L433.26,932.11 L434.54,933.88 L435.82,935.61 L437.10,937.30 L438.38,938.96 L439.66,940.57 L440.94,942.15 L442.22,943.69 L443.50,945.19 L444.78,946.66 L446.06,948.10 L447.33,949.51 L448.61,950.88 L449.89,952.22 L451.17,953.53 L452.45,954.81 L453.73,956.07 L455.01,957.29 L456.29,958.49 L457.57,959.66 L458.85,960.81 L460.13,961.93 L461.41,963.02 L462.68,964.09 L463.96,965.14 L465.24,966.17 L466.52,967.17 L467.80,968.15 L469.08,969.11 L470.36,970.05 L471.64,970.96 L472.92,971.86 L474.20,972.74 L475.48,973.60 L476.76,974.44 L478.03,975.27 L479.31,976.08 L480.59,976.87 L481.87,977.64 L483.15,978.40 L484.43,979.14 L485.71,979.86 L486.99,980.57 L488.27,981.27 L489.55,981.95 L490.83,982.62 L492.11,983.27 L493.38,983.91 L494.66,984.54 L495.94,985.15 L497.22,985.75 L498.50,986.34 L499.78,986.92 L501.06,987.48 L502.34,988.04 L503.62,988.58 L504.90,989.11 L506.18,989.64 L507.46,990.15 L508.74,990.65 L510.01,991.14 L511.29,991.62 L512.57,992.09 L513.85,992.56 L515.13,993.01 L516.41,993.46 L517.69,993.89 L518.97,994.32 L520.25,994.74 L521.53,995.15 L522.81,995.55 L524.09,995.95 L525.36,996.34 L526.64,996.72 L527.92,997.09 L529.20,997.46 L530.48,997.82 L531.76,998.17 L533.04,998.52 L534.32,998.86 L535.60,999.19 L536.88,999.52 L538.16,999.84 L539.44,1000.15 L540.71,1000.46 L541.99,1000.77 L543.27,1001.07 L544.55,1001.36 L545.83,1001.65 L547.11,1001.93 L548.39,1002.20 L549.67,1002.48 L550.95,1002.74 L552.23,1003.01 L553.51,1003.26 L554.79,1003.52 L556.07,1003.76 L557.34,1004.01 L558.62,1004.25 L559.90,1004.48 L561.18,1004.71 L562.46,1004.94 L563.74,1005.16 L565.02,1005.38 L566.30,1005.60 L567.58,1005.81 L568.86,1006.02 L570.14,1006.22 L571.42,1006.42 L572.69,1006.62 L573.97,1006.81 L575.25,1007.01 L576.53,1007.19 L577.81,1007.38 L579.09,1007.56 L580.37,1007.74 L581.65,1007.91 L582.93,1008.08 L584.21,1008.25 L585.49,1008.42 L586.77,1008.58 L588.04,1008.74 L589.32,1008.90 L590.60,1009.06 L591.88,1009.21 L593.16,1009.36 L594.44,1009.51 L595.72,1009.65 L597.00,1009.80 L598.28,1009.94 L599.56,1010.07 L600.84,1010.21 L602.12,1010.34 L603.40,1010.48 L604.67,1010.61 L605.95,1010.73 L607.23,1010.86 L608.51,1010.98 L609.79,1011.10 L611.07,1011.22 L612.35,1011.34 L613.63,1011.46 L614.91,1011.57 L616.19,1011.68 L617.47,1011.79 L618.75,1011.90 L620.02,1012.01 L621.30,1012.11 L622.58,1012.22 L623.86,1012.32 L625.14,1012.42 L626.42,1012.52 L627.70,1012.62 L628.98,1012.71 L630.26,1012.81 L631.54,1012.90 L632.82,1012.99 L634.10,1013.08 L635.37,1013.17 L636.65,1013.26 L637.93,1013.34 L639.21,1013.43 L640.49,1013.51 L641.77,1013.59 L643.05,1013.68 L644.33,1013.76 L645.61,1013.83 L646.89,1013.91 L648.17,1013.99 L649.45,1014.06 L650.73,1014.14 L652.00,1014.21 L653.28,1014.28 L654.56,1014.35 L655.84,1014.42 L657.12,1014.49 L658.40,1014.56 L659.68,1014.63 L660.96,1014.69 L662.24,1014.76 L663.52,1014.82 L664.80,1014.88 L666.08,1014.95 L667.35,1015.01 L668.63,1015.07 L669.91,1015.13 L671.19,1015.19 L672.47,1015.24 L673.75,1015.30 L675.03,1015.36 L676.31,1015.41 L677.59,1015.47 L678.87,1015.52 L680.15,1015.57 L681.43,1015.63 L682.70,1015.68 L683.98,1015.73 L685.26,1015.78 L686.54,1015.83 L687.82,1015.88 L689.10,1015.93 L690.38,1015.97 L691.66,1016.02 L692.94,1016.07 L694.22,1016.11 L695.50,1016.16 L696.78,1016.20 L698.05,1016.24 L699.33,1016.29 L700.61,1016.33 L701.89,1016.37 L703.17,1016.41 L704.45,1016.45 L705.73,1016.50 L707.01,1016.54 L708.29,1016.57 L709.57,1016.61 L710.85,1016.65 L712.13,1016.69 L713.41,1016.73 L714.68,1016.76 L715.96,1016.80 L717.24,1016.83 L718.52,1016.87 L719.80,1016.90 L721.08,1016.94 L722.36,1016.97 L723.64,1017.01 L724.92,1017.04 L726.20,1017.07 L727.48,1017.10 L728.76,1017.14 L730.03,1017.17 L731.31,1017.20 L732.59,1017.23 L733.87,1017.26 L735.15,1017.29 L736.43,1017.32 L737.71,1017.35 L738.99,1017.38 L740.27,1017.40 L741.55,1017.43 L742.83,1017.46 L744.11,1017.49 L745.38,1017.51 L746.66,1017.54 L747.94,1017.57 L749.22,1017.59 L750.50,1017.62 L751.78,1017.64 L753.06,1017.67 L754.34,1017.69 L755.62,1017.72 L756.90,1017.74 L758.18,1017.77 L759.46,1017.79 L760.74,1017.81 L762.01,1017.84 L763.29,1017.86 L764.57,1017.88 L765.85,1017.90 L767.13,1017.92 L768.41,1017.95 L769.69,1017.97 L770.97,1017.99 L772.25,1018.01 L773.53,1018.03 L774.81,1018.05 L776.09,1018.07 L777.36,1018.09 L778.64,1018.11 L779.92,1018.13 L781.20,1018.15 L782.48,1018.17 L783.76,1018.19 L785.04,1018.20 L786.32,1018.22 L787.60,1018.24 L788.88,1018.26 L790.16,1018.28 L791.44,1018.29 L792.71,1018.31 L793.99,1018.33 L795.27,1018.34 L796.55,1018.36 L797.83,1018.38 L799.11,1018.39 L800.39,1018.41 L801.67,1018.42 L802.95,1018.44 L804.23,1018.46 L805.51,1018.47 L806.79,1018.49 L808.07,1018.50 L809.34,1018.52 L810.62,1018.53 L811.90,1018.55 L813.18,1018.56 L814.46,1018.57 L815.74,1018.59 L817.02,1018.60 L818.30,1018.62 L819.58,1018.63 L820.86,1018.64 L822.14,1018.66 L823.42,1018.67 L824.69,1018.68 L825.97,1018.69 L827.25,1018.71 L828.53,1018.72 L829.81,1018.73 L831.09,1018.74 L832.37,1018.76 L833.65,1018.77 L834.93,1018.78 L836.21,1018.79 L837.49,1018.80 L838.77,1018.81 L840.04,1018.83 L841.32,1018.84 L842.60,1018.85 L843.88,1018.86 L845.16,1018.87 L846.44,1018.88 L847.72,1018.89 L849.00,1018.90 L850.28,1018.91 L851.56,1018.92 L852.84,1018.93 L854.12,1018.94 L855.40,1018.95 L856.67,1018.96 L857.95,1018.97 L859.23,1018.98 L860.51,1018.99 L861.79,1019.00 L863.07,1019.01 L864.35,1019.02 L865.63,1019.03 L866.91,1019.04 L868.19,1019.05 L869.47,1019.05 L870.75,1019.06 L872.02,1019.07 L873.30,1019.08 L874.58,1019.09 L875.86,1019.10 L877.14,1019.11 L878.42,1019.11 L879.70,1019.12 L880.98,1019.13 L882.26,1019.14 L883.54,1019.15 L884.82,1019.15 L886.10,1019.16 L887.37,1019.17 L888.65,1019.18 L889.93,1019.18 L891.21,1019.19 L892.49,1019.20 L893.77,1019.21 L895.05,1019.21 L896.33,1019.22 L897.61,1019.23 L898.89,1019.23 L900.17,1019.24 L901.45,1019.25 L902.72,1019.25 L904.00,1019.26 L905.28,1019.27 L906.56,1019.27 L907.84,1019.28 L909.12,1019.29 L910.40,1019.29 L911.68,1019.30 L912.96,1019.31 L914.24,1019.31 L915.52,1019.32 L916.80,1019.33 L918.08,1019.33 L919.35,1019.34 L920.63,1019.34 L921.91,1019.35 L923.19,1019.35 L924.47,1019.36 L925.75,1019.37 L927.03,1019.37 L928.31,1019.38 L929.59,1019.38 L930.87,1019.39 L932.15,1019.39 L933.43,1019.40 L934.70,1019.40 L935.98,1019.41 L937.26,1019.41 L938.54,1019.42 L939.82,1019.42 L941.10,1019.43 L942.38,1019.43 L943.66,1019.44 L944.94,1019.44 L946.22,1019.45 L947.50,1019.45 L948.78,1019.46 L950.05,1019.46 L951.33,1019.47 L952.61,1019.47 L953.89,1019.48 L955.17,1019.48 L956.45,1019.49 L957.73,1019.49 L959.01,1019.50 L960.29,1019.50 L961.57,1019.50 L962.85,1019.51 L964.13,1019.51 L965.41,1019.52 L966.68,1019.52 L967.96,1019.53 L969.24,1019.53 L970.52,1019.53 L971.80,1019.54 L973.08,1019.54 L974.36,1019.55 L975.64,1019.55 L976.92,1019.55 L978.20,1019.56 L979.48,1019.56 L980.76,1019.56 L982.03,1019.57 L983.31,1019.57 L984.59,1019.58 L985.87,1019.58 L987.15,1019.58 L988.43,1019.59 L989.71,1019.59 L990.99,1019.59 L992.27,1019.60 L993.55,1019.60 L994.83,1019.60 L996.11,1019.61 L997.38,1019.61 L998.66,1019.61 L999.94,1019.62 L1001.22,1019.62 L1002.50,1019.62 L1003.78,1019.63 L1005.06,1019.63 L1006.34,1019.63 L1007.62,1019.64 L1008.90,1019.64 L1010.18,1019.64 L1011.46,1019.65 L1012.74,1019.65 L1014.01,1019.65 L1015.29,1019.65 L1016.57,1019.66 L1017.85,1019.66 L1019.13,1019.66 L1020.41,1019.67 L1021.69,1019.67 L1022.97,1019.67 L1024.25,1019.67 L1025.53,1019.68 L1026.81,1019.68 L1028.09,1019.68 L1029.36,1019.69 L1030.64,1019.69 L1031.92,1019.69 L1033.20,1019.69 L1034.48,1019.70 L1035.76,1019.70 L1037.04,1019.70 L1038.32,1019.70 L1039.60,1019.71 L1040.88,1019.71 L1042.16,1019.71 L1043.44,1019.71 L1044.71,1019.72 L1045.99,1019.72 L1047.27,1019.72 L1048.55,1019.72 L1049.83,1019.73 L1051.11,1019.73 L1052.39,1019.73 L1053.67,1019.73 L1054.95,1019.74 L1056.23,1019.74 L1057.51,1019.74 L1058.79,1019.74 L1060.07,1019.74 L1061.34,1019.75 L1062.62,1019.75 L1063.90,1019.75 L1065.18,1019.75 L1066.46,1019.75 L1067.74,1019.76 L1069.02,1019.76 L1070.30,1019.76 L1071.58,1019.76 L1072.86,1019.77 L1074.14,1019.77 L1075.42,1019.77 L1076.69,1019.77 L1077.97,1019.77 L1079.25,1019.78 L1080.53,1019.78 L1081.81,1019.78 L1083.09,1019.78 L1084.37,1019.78 L1085.65,1019.78 L1086.93,1019.79 L1088.21,1019.79 L1089.49,1019.79 L1090.77,1019.79 L1092.04,1019.79 L1093.32,1019.80 L1094.60,1019.80 L1095.88,1019.80 L1097.16,1019.80 L1098.44,1019.80 L1099.72,1019.80 L1101.00,1019.81 L1102.28,1019.81 L1103.56,1019.81 L1104.84,1019.81 L1106.12,1019.81 L1107.39,1019.81 L1108.67,1019.82 L1109.95,1019.82 L1111.23,1019.82 L1112.51,1019.82 L1113.79,1019.82 L1115.07,1019.82 L1116.35,1019.83 L1117.63,1019.83 L1118.91,1019.83 L1120.19,1019.83 L1121.47,1019.83 L1122.75,1019.83 L1124.02,1019.83 L1125.30,1019.84 L1126.58,1019.84 L1127.86,1019.84 L1129.14,1019.84 L1130.42,1019.84 L1131.70,1019.84 L1132.98,1019.84 L1134.26,1019.85 L1135.54,1019.85 L1136.82,1019.85 L1138.10,1019.85 L1139.37,1019.85 L1140.65,1019.85 L1141.93,1019.85 L1143.21,1019.85 L1144.49,1019.86 L1145.77,1019.86 L1147.05,1019.86 L1148.33,1019.86 L1149.61,1019.86 L1150.89,1019.86 L1152.17,1019.86 L1153.45,1019.87 L1154.72,1019.87 L1156.00,1019.87 L1157.28,1019.87 L1158.56,1019.87 L1159.84,1019.87 L1161.12,1019.87 L1162.40,1019.87" stroke="#ff00ff"/>
</g>
<g transform="translate(137.85,1074.50) scale(0.82,1)"><text font-size="36.6" text-anchor="middle">0</text></g>
<g transform="translate(123.80,1035.90) scale(0.82,1)"><text font-size="36.6" text-anchor="end">0</text></g>
<g transform="translate(265.77,1074.50) scale(0.82,1)"><text font-size="36.6" text-anchor="middle">0.5</text></g>
<g transform="translate(123.80,913.41) scale(0.82,1)"><text font-size="36.6" text-anchor="end">0.5</text></g>
<g transform="translate(393.69,1074.50) scale(0.82,1)"><text font-size="36.6" text-anchor="middle">1</text><rect x="-8.59" y="-3.73" width="7.32" height="5.23" fill="#fff"/><rect x="2.56" y="-3.73" width="7.03" height="5.23" fill="#fff"/></g>
<g transform="translate(123.80,790.92) scale(0.82,1)"><text font-size="36.6" text-anchor="end">1</text><rect x="-18.77" y="-3.73" width="7.32" height="5.23" fill="#fff"/><rect x="-7.62" y="-3.73" width="7.03" height="5.23" fill="#fff"/></g>
<g transform="translate(521.61,1074.50) scale(0.82,1)"><text font-size="36.6" text-anchor="middle">1.5</text><rect x="-23.85" y="-3.73" width="7.32" height="5.23" fill="#fff"/><rect x="-12.70" y="-3.73" width="7.03" height="5.23" fill="#fff"/></g>
<g transform="translate(123.80,668.44) scale(0.82,1)"><text font-size="36.6" text-anchor="end">1.5</text><rect x="-49.29" y="-3.73" width="7.32" height="5.23" fill="#fff"/><rect x="-38.14" y="-3.73" width="7.03" height="5.23" fill="#fff"/></g>
<g transform="translate(649.53,1074.50) scale(0.82,1)"><text font-size="36.6" text-anchor="middle">2</text></g>
<g transform="translate(123.80,545.95) scale(0.82,1)"><text font-size="36.6" text-anchor="end">2</text></g>
<g transform="translate(777.44,1074.50) scale(0.82,1)"><text font-size="36.6" text-anchor="middle">2.5</text></g>
<g transform="translate(123.80,423.46) scale(0.82,1)"><text font-size="36.6" text-anchor="end">2.5</text></g>
<g transform="translate(905.36,1074.50) scale(0.82,1)"><text font-size="36.6" text-anchor="middle">3</text></g>
<g transform="translate(123.80,300.98) scale(0.82,1)"><text font-size="36.6" text-anchor="end">3</text></g>
<g transform="translate(1033.28,1074.50) scale(0.82,1)"><text font-size="36.6" text-anchor="middle">3.5</text></g>
<g transform="translate(123.80,178.49) scale(0.82,1)"><text font-size="36.6" text-anchor="end">3.5</text></g>
<g transform="translate(1161.20,1074.50) scale(0.82,1)"><text font-size="36.6" text-anchor="middle">4</text></g>
<g transform="translate(123.80,56.00) scale(0.82,1)"><text font-size="36.6" text-anchor="end">4</text></g>
<text transform="translate(650.2,1133) scale(0.85,1)" font-size="42.2" text-anchor="middle">omega(rad)</text>
<text transform="translate(64.3,461.3) rotate(-90) scale(1,0.846)" font-size="42.2" text-anchor="end">Amplitude(m</text>
<text transform="translate(46.7,457) rotate(-90) scale(1,0.846)" font-size="30">2</text>
<text transform="translate(64.3,435.9) rotate(-90) scale(1,0.846)" font-size="42.2">/Hz)</text>
<g class="lg">
<rect x="741" y="76" width="392" height="169" fill="#161616"/>
<rect x="744" y="79" width="386" height="163" fill="#ffffff"/>
<rect x="761" y="108" width="96" height="3" fill="#ff0000"/>
<g transform="translate(864.60,124.80) scale(0.852,1)"><text font-size="36" text-anchor="start">wind speed:10 m/s</text><rect x="193.67" y="-3.69" width="7.21" height="5.19" fill="#fff"/><rect x="204.66" y="-3.69" width="6.93" height="5.19" fill="#fff"/></g>
<rect x="761" y="160" width="96" height="2" fill="#00ff00"/>
<g transform="translate(864.60,175.70) scale(0.852,1)"><text font-size="36" text-anchor="start">wind speed:13 m/s</text><rect x="193.67" y="-3.69" width="7.21" height="5.19" fill="#fff"/><rect x="204.66" y="-3.69" width="6.93" height="5.19" fill="#fff"/></g>
<rect x="761" y="210" width="96" height="3" fill="#ff00ff"/>
<g transform="translate(864.60,225.80) scale(0.852,1)"><text font-size="36" text-anchor="start">wind speed:15 m/s</text><rect x="193.67" y="-3.69" width="7.21" height="5.19" fill="#fff"/><rect x="204.66" y="-3.69" width="6.93" height="5.19" fill="#fff"/></g>
</g>
</svg></body></html>
